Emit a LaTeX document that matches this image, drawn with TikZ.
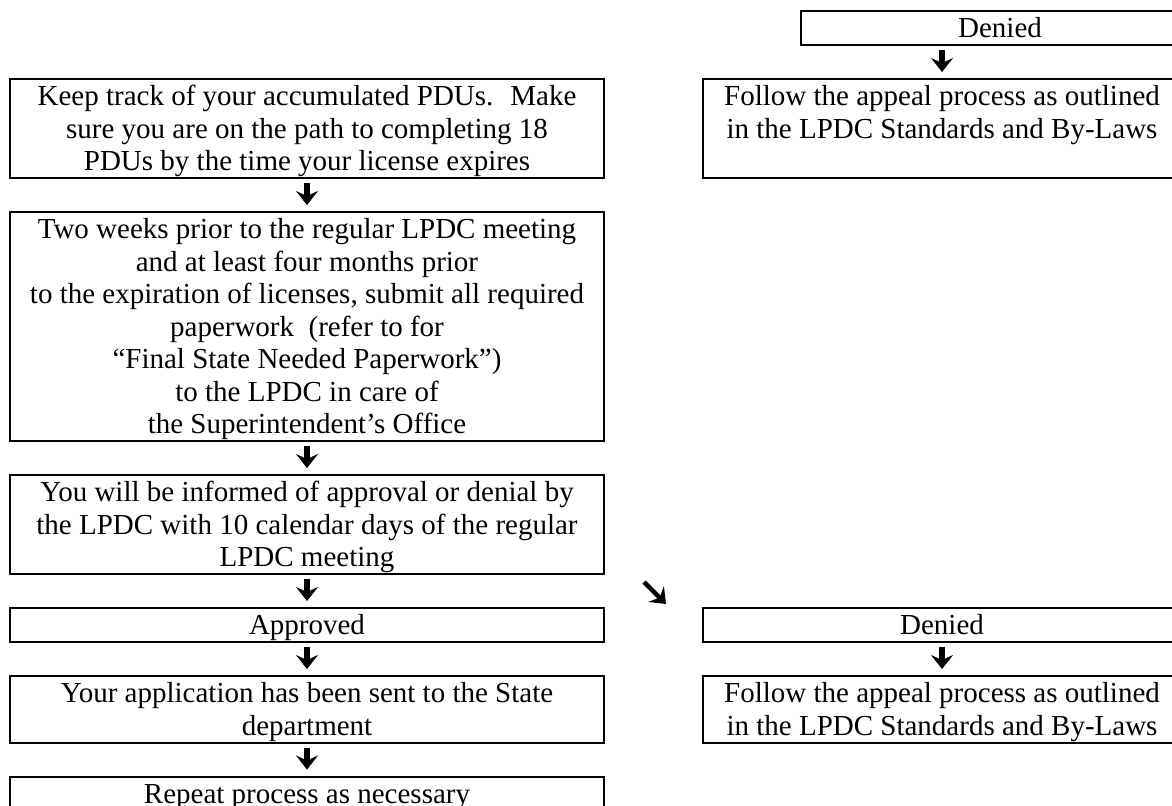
\documentclass[tikz,border=0pt]{standalone}
\usepackage{fontspec}
\setmainfont{Liberation Serif}
\usetikzlibrary{positioning,arrows.meta}
\newcommand\flowfont{\fontsize{14.5}{16.25}\selectfont}
\newcommand\topstrut{\rule{0pt}{13.2pt}}
\newcommand\botstrut{\rule[-3.3pt]{0pt}{3.3pt}}
\begin{document}
\begin{tikzpicture}[x=1pt,y=1pt,>={Stealth[length=7pt,width=11pt,inset=2.5pt]},
  box/.style={draw,line width=1pt,align=center,font=\flowfont,
    inner xsep=2pt,inner ysep=0.25pt,execute at end node=\botstrut},
  leftbox/.style={box,minimum width=297pt},
  rightbox/.style={box,minimum width=239pt},
  flow/.style={->,line width=2.6pt,shorten <=2pt,shorten >=3pt},
  node distance=16pt]
\useasboundingbox (0,0) rectangle (586,-402.5);
\clip (0,0) rectangle (586,-402.5);
% main column
\node[leftbox,anchor=north] (keep) at (153.5,-39)
  {\topstrut Keep track of your accumulated PDUs.~ Make\\
   sure you are on the path to completing 18\\
   PDUs by the time your license expires};
\node[leftbox,below=of keep] (submit)
  {\topstrut Two weeks prior to the regular LPDC meeting\\
   and at least four months prior\\
   to the expiration of licenses, submit all required\\
   paperwork~ (refer to for\\
   “Final State Needed Paperwork”)\\
   to the LPDC in care of\\
   the Superintendent’s Office};
\node[leftbox,below=of submit] (inform)
  {\topstrut You will be informed of approval or denial by\\
   the LPDC with 10 calendar days of the regular\\
   LPDC meeting};
\node[leftbox,below=of inform] (approved) {\topstrut Approved};
\node[leftbox,below=of approved] (sent)
  {\topstrut Your application has been sent to the State\\
   department};
\node[leftbox,below=of sent] (repeat) {\topstrut Repeat process as necessary\\ \mbox{}};
% denied branches
\node[rightbox,right=48.5pt of keep] (appeala)
  {\topstrut Follow the appeal process as outlined\\
   in the LPDC Standards and By-Laws\\ \mbox{}};
\node[box,minimum width=199pt,above=16pt of appeala,xshift=29pt] (denieda) {\topstrut Denied};
\node[rightbox,right=48.5pt of approved] (deniedb) {\topstrut Denied};
\node[rightbox,below=of deniedb] (appealb)
  {\topstrut Follow the appeal process as outlined\\
   in the LPDC Standards and By-Laws};
% arrows
\draw[flow] (keep) -- (submit);
\draw[flow] (submit) -- (inform);
\draw[flow] (inform) -- (approved);
\draw[flow] (approved) -- (sent);
\draw[flow] (sent) -- (repeat);
\draw[flow] (appeala.north |- denieda.south) -- (appeala.north);
\draw[flow] (deniedb) -- (appealb);
\coordinate (d1) at ([shift={(19.5,-3.5)}]inform.south east);
\coordinate (d2) at ([shift={(30.5,-14.5)}]inform.south east);
\draw[flow,line width=2.2pt,shorten <=0pt,shorten >=0pt] (d1) -- (d2);
\end{tikzpicture}
\end{document}
